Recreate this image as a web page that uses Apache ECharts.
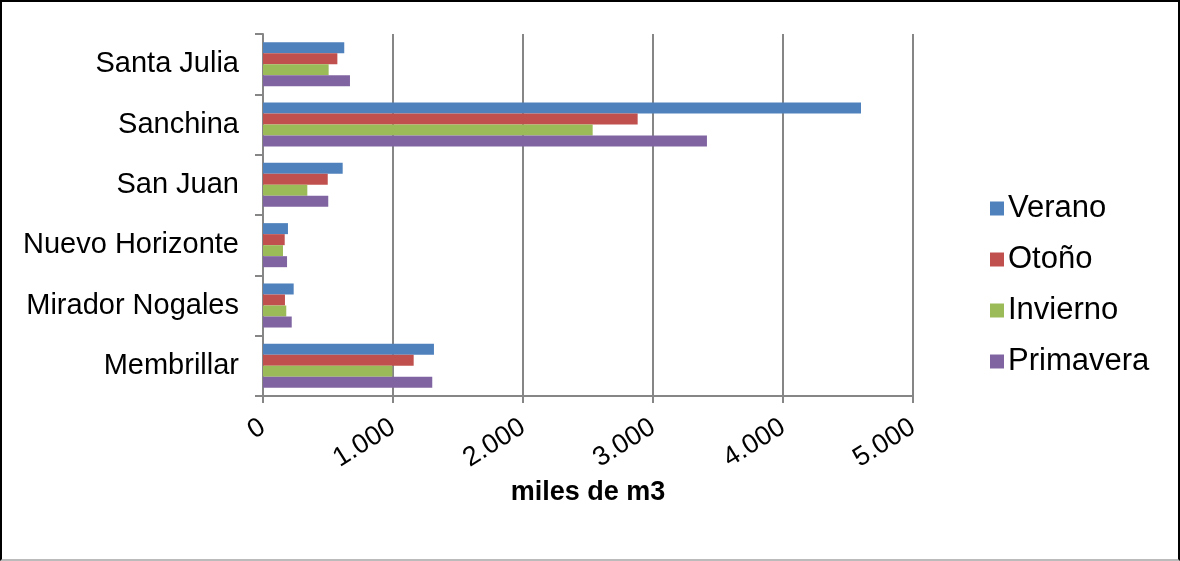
<!DOCTYPE html>
<html><head><meta charset="utf-8">
<script src="https://cdn.jsdelivr.net/npm/echarts@6/dist/echarts.min.js"></script>
<style>
html,body{margin:0;padding:0;background:#fff;}
#c{width:1180px;height:561px;box-sizing:border-box;border-top:2px solid #000;border-left:2px solid #000;border-right:2px solid #000;border-bottom:2px solid #bbb;}
</style></head>
<body><div id="c"></div>
<script>
const categories = ['Santa Julia','Sanchina','San Juan','Nuevo Horizonte','Mirador Nogales','Membrillar'];
const verano = [625, 4600, 613, 192, 236, 1315];
const otono = [572, 2882, 498, 167, 169, 1159];
const invierno = [505, 2536, 341, 154, 179, 995];
const primavera = [669, 3415, 502, 185, 221, 1302];
const seriesNames = ['Verano','Otoño','Invierno','Primavera'];
const xTicks = ['0','1.000','2.000','3.000','4.000','5.000'];

const el = document.getElementById('c');
const chart = echarts.init(el, null, {width:1176, height:557});
const colors = ['#4F81BD','#C0504D','#9BBB59','#8064A2'];
const data = [verano, otono, invierno, primavera];
const font = 'Liberation Sans, Arial, sans-serif';
chart.setOption({
  animation:false,
  color: colors,
  textStyle:{fontFamily:font},
  grid:{left:261, right:265, top:32, bottom:163, containLabel:false},
  legend:{
    orient:'vertical', left:983, top:186, itemGap:20,
    itemWidth:14, itemHeight:14, icon:'rect',
    textStyle:{fontSize:31, color:'#000', fontFamily:font, padding:[0,0,0,-1]},
    data: seriesNames
  },
  xAxis:{
    type:'value', min:0, max:5000, interval:1000,
    name:'miles de m3', nameLocation:'middle', nameGap:80,
    nameTextStyle:{fontSize:27, fontWeight:'bold', color:'#000', fontFamily:font},
    axisLine:{show:true, lineStyle:{color:'#868686', width:2}},
    axisTick:{show:true, length:7, lineStyle:{color:'#868686', width:2}},
    splitLine:{show:true, lineStyle:{color:'#868686', width:2}},
    axisLabel:{fontSize:27, color:'#000', rotate:32, margin:29, fontFamily:font,
      formatter: function(v){ return xTicks[Math.round(v/1000)]; }}
  },
  yAxis:{
    type:'category', inverse:true, data:categories,
    axisLine:{show:true, lineStyle:{color:'#868686', width:2}},
    axisTick:{show:true, length:8, lineStyle:{color:'#868686', width:2}},
    axisLabel:{fontSize:29, color:'#000', margin:24, fontFamily:font}
  },
  series: seriesNames.map((n,i)=>({
    name:n, type:'bar', data:data[i], barGap:'0%', barCategoryGap:'27%',
    itemStyle:{color:colors[i]}
  }))
});
</script></body></html>
